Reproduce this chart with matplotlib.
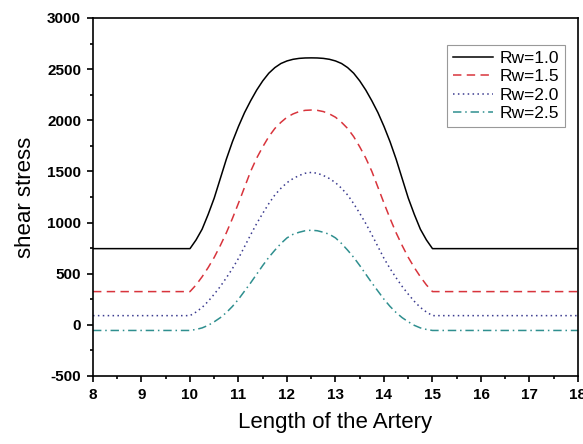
import matplotlib
matplotlib.use("Agg")
import matplotlib.pyplot as plt
from matplotlib.ticker import MultipleLocator

plt.rcParams['font.family'] = ['Liberation Sans', 'DejaVu Sans']
plt.rcParams['axes.unicode_minus'] = False

# posicao ao longo da arteria
comprimento = [8.0,
               10.0, 10.125, 10.25, 10.375, 10.5, 10.625, 10.75, 10.875,
               11.0, 11.125, 11.25, 11.375, 11.5, 11.625, 11.75, 11.875,
               12.0, 12.125, 12.25, 12.375, 12.5, 12.625, 12.75, 12.875,
               13.0, 13.125, 13.25, 13.375, 13.5, 13.625, 13.75, 13.875,
               14.0, 14.125, 14.25, 14.375, 14.5, 14.625, 14.75, 14.875,
               15.0, 18.0]

# tensao de cisalhamento
rw_10 = [745,
         745, 830, 935, 1080, 1240, 1430, 1620, 1790,
         1940, 2075, 2190, 2295, 2385, 2460, 2515, 2555,
         2580, 2596, 2605, 2609, 2610, 2609, 2605, 2596,
         2580, 2555, 2515, 2460, 2385, 2295, 2190, 2075,
         1940, 1790, 1620, 1430, 1240, 1080, 935, 830,
         745, 745]
rw_15 = [325,
         325, 390, 470, 560, 660, 775, 900, 1040,
         1190, 1345, 1500, 1630, 1740, 1840, 1920, 1980,
         2030, 2062, 2085, 2097, 2100, 2097, 2085, 2062,
         2030, 1980, 1920, 1840, 1740, 1630, 1500, 1345,
         1190, 1040, 900, 775, 660, 560, 470, 390,
         325, 325]
rw_20 = [90,
         90, 125, 170, 230, 300, 375, 460, 550,
         650, 765, 880, 990, 1090, 1185, 1270, 1335,
         1390, 1430, 1460, 1482, 1490, 1482, 1460, 1430,
         1390, 1335, 1270, 1185, 1090, 990, 880, 765,
         650, 550, 460, 375, 300, 230, 170, 125,
         90, 90]
rw_25 = [-55,
         -55, -45, -30, -5, 30, 70, 120, 180,
         250, 330, 410, 495, 580, 660, 730, 795,
         850, 885, 905, 920, 925, 920, 905, 885,
         850, 795, 730, 660, 580, 495, 410, 330,
         250, 180, 120, 70, 30, -5, -30, -45,
         -55, -55]

fig = plt.figure(figsize=(5.83, 4.44), dpi=100)
ax = fig.add_axes([0.1595, 0.1532, 0.8319, 0.8063])

ax.plot(comprimento, rw_10, color='black', linewidth=1.1, linestyle='-', label='Rw=1.0')
ax.plot(comprimento, rw_15, color='#d8343c', linewidth=1.1, linestyle=(0, (5.5, 3.5)), label='Rw=1.5')
ax.plot(comprimento, rw_20, color='#3b3b8f', linewidth=1.1, linestyle=(0, (1, 2.2)), label='Rw=2.0')
ax.plot(comprimento, rw_25, color='#2f8f8f', linewidth=1.1, linestyle=(0, (5.5, 2.5, 1, 2.5)), label='Rw=2.5')

ax.set_xlim(8, 18)
ax.set_ylim(-500, 3000)
ax.xaxis.set_major_locator(MultipleLocator(1))
ax.xaxis.set_minor_locator(MultipleLocator(0.5))
ax.yaxis.set_major_locator(MultipleLocator(500))
ax.yaxis.set_minor_locator(MultipleLocator(250))
ax.tick_params(which='both', direction='out', top=False, right=False, width=1.2)
ax.tick_params(which='major', length=4.5, labelsize=11, pad=4)
ax.tick_params(which='minor', length=2.5)
for lab in ax.get_xticklabels() + ax.get_yticklabels():
    lab.set_fontweight('bold')
for sp in ax.spines.values():
    sp.set_linewidth(1.2)

ax.set_xlabel("Length of the Artery", fontsize=16, labelpad=7)
ax.set_ylabel("shear stress", fontsize=16, labelpad=8)

leg = ax.legend(loc='upper right', bbox_to_anchor=(0.973, 0.9246), borderaxespad=0,
                fontsize=12.5, labelspacing=0.18, handlelength=2.3, handletextpad=0.35,
                fancybox=False, edgecolor='#999999', framealpha=1, borderpad=0.35)
leg.get_frame().set_linewidth(0.8)

fig.savefig("out.png", dpi=100)
